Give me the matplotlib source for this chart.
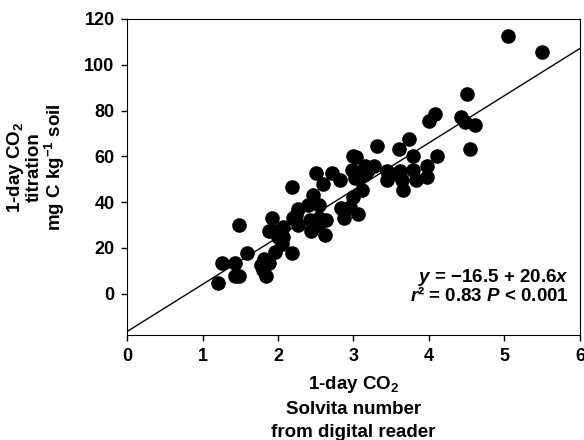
import numpy as np
import matplotlib
matplotlib.use('Agg')
import matplotlib.pyplot as plt

plt.rcParams['font.family'] = 'Liberation Sans'
plt.rcParams['font.weight'] = 'bold'
plt.rcParams['mathtext.fontset'] = 'custom'
plt.rcParams['mathtext.rm'] = 'Liberation Sans:bold'
plt.rcParams['mathtext.it'] = 'Liberation Sans:bold:italic'
plt.rcParams['mathtext.bf'] = 'Liberation Sans:bold'

# digital reader Solvita number vs titration CO2
solvita = [5.05, 5.50, 4.50, 4.00, 4.08, 4.42, 4.48, 4.61, 4.55, 3.31,
           3.74, 3.60, 3.79, 4.11, 2.99, 3.04, 2.98, 3.15, 3.27, 3.17,
           3.08, 3.11, 2.99, 2.95, 3.06, 2.84, 2.88, 3.44, 3.50, 3.44,
           3.61, 3.64, 3.66, 3.79, 3.83, 3.97, 3.98, 2.51, 2.60, 2.71,
           2.82, 2.19, 2.46, 2.40, 2.54, 2.27, 2.20, 2.27, 2.42, 2.55,
           2.64, 2.44, 2.62, 2.53, 1.92, 1.88, 2.07, 2.00, 2.07, 2.05,
           1.96, 2.18, 1.48, 1.59, 1.26, 1.43, 1.43, 1.48, 1.20, 1.82,
           1.78, 1.88, 1.80, 1.84, 1.94, 2.24, 3.02, 3.19]
titration = [112.7, 105.4, 87.3, 75.3, 78.5, 77.0, 75.0, 73.5, 63.2, 64.6,
             67.5, 63.2, 60.0, 60.0, 60.3, 59.5, 54.1, 55.6, 55.6, 52.7,
             51.2, 45.4, 42.1, 38.1, 34.8, 37.4, 33.0, 53.4, 52.3, 49.5,
             53.4, 49.8, 45.1, 54.1, 49.8, 55.6, 50.8, 52.7, 47.9, 52.7,
             49.8, 46.6, 43.2, 38.6, 38.6, 37.0, 33.3, 30.1, 32.3, 33.0,
             32.0, 27.2, 25.8, 30.1, 33.3, 27.5, 29.0, 24.6, 25.0, 21.7,
             18.2, 18.0, 30.1, 18.0, 13.4, 13.4, 7.6, 7.6, 4.7, 15.1,
             12.7, 13.4, 10.5, 7.6, 27.2, 34.5, 50.4, 54.1]

intercept = -16.5
slope = 20.6

fig = plt.figure(figsize=(5.84, 4.40), dpi=100)
ax = fig.add_axes([0.2175, 0.2386, 0.7755, 0.7184])

ax.scatter(solvita, titration, s=90, color='black', zorder=3)
ax.axline((0, intercept), slope=slope, color='black', lw=1)

ax.set_xlim(0, 6)
ax.set_ylim(-18, 120)
ax.set_xticks(np.arange(0, 7, 1))
ax.set_yticks(np.arange(0, 121, 20))
ax.tick_params(direction='out', length=4, width=1, labelsize=13, pad=5)
for lab in ax.get_xticklabels() + ax.get_yticklabels():
    lab.set_fontweight('bold')

ax.set_xlabel('1-day CO$_2$\nSolvita number\nfrom digital reader',
              fontsize=13.5, fontweight='bold', linespacing=1.45, labelpad=7)
ax.set_ylabel('1-day CO$_2$\ntitration\nmg C kg$^{-1}$ soil',
              fontsize=13.5, fontweight='bold', linespacing=1.0, labelpad=8)
ax.yaxis.set_label_coords(-0.132, 0.53)

ax.text(0.976, 0.155, '$y$ = \u221216.5 + 20.6$x$\n$r$\u00b2 = 0.83 $P$ < 0.001',
        transform=ax.transAxes, ha='right', va='center', fontsize=13.5,
        fontweight='bold', linespacing=0.9)

fig.savefig('out.png', dpi=100)
